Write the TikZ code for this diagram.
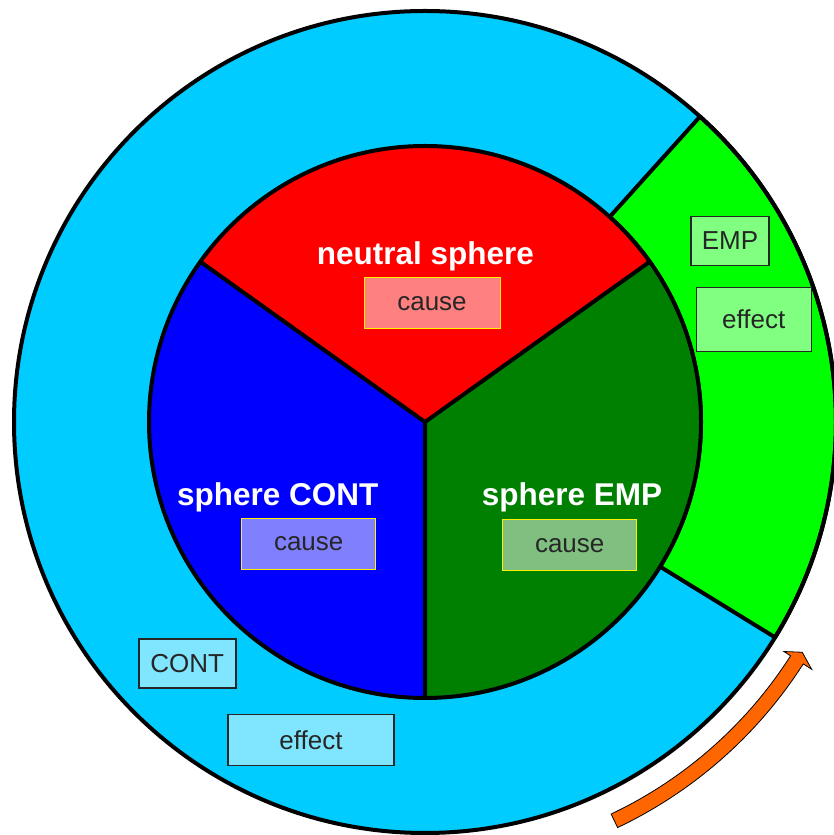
\documentclass[tikz,border=0pt]{standalone}
\usepackage{fontspec}
\setmainfont{Liberation Sans}
\usetikzlibrary{positioning}
\definecolor{ringblue}{HTML}{00CCFF}
\definecolor{empgreen}{HTML}{00FF00}
\definecolor{neutralred}{HTML}{FF0000}
\definecolor{contblue}{HTML}{0000FF}
\definecolor{empdark}{HTML}{008000}
\definecolor{arrowor}{HTML}{FF6600}

\begin{document}
\begin{tikzpicture}[x=1pt, y=1pt,
  every node/.style={font=\fontsize{26}{30}\selectfont, text=black!85},
  title/.style={font=\fontsize{31.5}{36}\selectfont\bfseries, text=white, anchor=base},
  causebox/.style={draw=yellow, line width=1pt, minimum width=134pt,
                   minimum height=51pt, inner sep=0pt},
  lblbox/.style={draw=black!85, line width=1.4pt, inner sep=0pt},
  border/.style={line width=4pt, line join=round}
]
\useasboundingbox (0,0) rectangle (833,835);
\coordinate (c) at (425,413);

\begin{scope}[shift={(c)}]
\fill[ringblue] (0,0) circle[radius=411];
\filldraw[fill=empgreen, border] (-31.6:276) -- (-31.6:411)
  arc[start angle=-31.6, end angle=48, radius=411] -- (48:276)
  arc[start angle=48, end angle=-31.6, radius=276] -- cycle;
\draw[border] (0,0) circle[radius=411];

\fill[neutralred] (0,0) -- (35.5:276) arc[start angle=35.5, end angle=144.5, radius=276] -- cycle;
\fill[contblue] (0,0) -- (144.5:276) arc[start angle=144.5, end angle=270, radius=276] -- cycle;
\fill[empdark] (0,0) -- (270:276) arc[start angle=270, end angle=395.5, radius=276] -- cycle;
\draw[border] (35.5:276) -- (0,0) -- (144.5:276) (0,0) -- (270:276);
\draw[border] (0,0) circle[radius=276];

\filldraw[fill=arrowor, draw=black, line width=0.8pt, line join=miter]
  (-64.6:434) arc[start angle=-64.6, end angle=-32.6, radius=434]
  -- (-32.6:426) -- (-31.4:442) -- (-32.6:459) -- (-32.6:449)
  arc[start angle=-32.6, end angle=-64.6, radius=449] -- cycle;
\end{scope}

\node[title] (neutral) at (425.5,570) {neutral sphere};
\node[title] (cont) at (277.7,329) {sphere CONT};
\node[title] (emp) at (572,329) {sphere EMP};

\node[causebox, fill=neutralred!50!white, minimum width=136pt] (neutralcause) at (432,531.5) {cause};
\node[causebox, fill=contblue!50!white] (contcause) at (308.7,291.2) {cause};
\node[causebox, fill=empdark!50!white] (empcause) at (569.7,289.7) {cause};

\node[lblbox, fill=empgreen!50!white, minimum width=78pt, minimum height=49pt] (emplbl) at (730,594) {EMP};
\node[lblbox, fill=empgreen!50!white, minimum width=115pt, minimum height=64pt] (empeff) at (753.7,515.3) {effect};
\node[lblbox, fill=ringblue!50!white, minimum width=97pt, minimum height=49pt] (contlbl) at (187.3,171.3) {CONT};
\node[lblbox, fill=ringblue!50!white, minimum width=166pt, minimum height=51pt] (conteff) at (311,94.7) {effect};
\end{tikzpicture}
\end{document}
